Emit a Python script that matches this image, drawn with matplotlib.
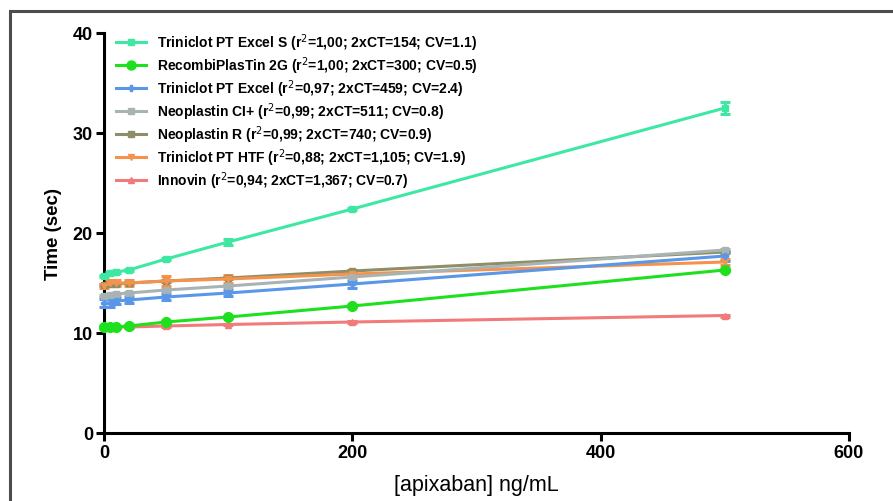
import matplotlib
matplotlib.use("Agg")
import matplotlib.pyplot as plt
from matplotlib.patches import Rectangle
from matplotlib.lines import Line2D

plt.rcParams['font.family'] = ['Liberation Sans', 'DejaVu Sans']

# ---- data ----
apixaban = [0, 5, 10, 20, 50, 100, 200, 500]

series_names = [
    "Triniclot PT Excel S (r$^2$=1,00; 2xCT=154; CV=1.1)",
    "RecombiPlasTin 2G (r$^2$=1,00; 2xCT=300; CV=0.5)",
    "Triniclot PT Excel (r$^2$=0,97; 2xCT=459; CV=2.4)",
    "Neoplastin CI+ (r$^2$=0,99; 2xCT=511; CV=0.8)",
    "Neoplastin R (r$^2$=0,99; 2xCT=740; CV=0.9)",
    "Triniclot PT HTF (r$^2$=0,88; 2xCT=1,105; CV=1.9)",
    "Innovin (r$^2$=0,94; 2xCT=1,367; CV=0.7)",
]

excel_s = [15.7, 16.0, 16.1, 16.3, 17.4, 19.1, 22.4, 32.5]
excel_s_err = [0.1, 0.1, 0.1, 0.1, 0.1, 0.3, 0.1, 0.6]

recombiplastin = [10.6, 10.6, 10.6, 10.7, 11.1, 11.6, 12.7, 16.3]
recombiplastin_err = [0.1, 0.1, 0.1, 0.1, 0.1, 0.1, 0.1, 0.1]

excel = [13.0, 13.0, 13.2, 13.3, 13.6, 14.0, 14.9, 17.7]
excel_err = [0.4, 0.4, 0.3, 0.3, 0.3, 0.3, 0.35, 0.45]

neoplastin_ci = [13.7, 13.8, 13.9, 14.0, 14.3, 14.7, 15.6, 18.3]
neoplastin_ci_err = [0.1, 0.1, 0.1, 0.1, 0.1, 0.1, 0.1, 0.1]

neoplastin_r = [14.8, 14.9, 14.9, 15.0, 15.2, 15.5, 16.2, 18.1]
neoplastin_r_err = [0.1, 0.1, 0.1, 0.1, 0.1, 0.1, 0.1, 0.1]

htf = [14.7, 15.0, 15.0, 15.0, 15.2, 15.4, 15.9, 17.1]
htf_err = [0.2, 0.3, 0.3, 0.3, 0.5, 0.4, 0.1, 0.3]

innovin = [10.6, 10.6, 10.6, 10.6, 10.7, 10.85, 11.1, 11.75]
innovin_err = [0.05, 0.05, 0.05, 0.05, 0.05, 0.05, 0.1, 0.1]

x_ticks = [0, 200, 400, 600]
y_ticks = [0, 10, 20, 30, 40]

# ---- styles ----
styles = [
    (excel_s, excel_s_err, '#3FE8A2', 's', 4.5, 4.5),
    (recombiplastin, recombiplastin_err, '#1EE01E', 'o', 7, 6.5),
    (excel, excel_err, '#5A97E8', 'P', 4.5, 4.5),
    (neoplastin_ci, neoplastin_ci_err, '#A8B4B4', 's', 4, 4.5),
    (neoplastin_r, neoplastin_r_err, '#8E8E68', 's', 4, 4.5),
    (htf, htf_err, '#F5934C', 'v', 4, 4.5),
    (innovin, innovin_err, '#F37A7A', '^', 4, 4.5),
]

fig = plt.figure(figsize=(8.93, 5.02), dpi=100)
fig.patch.set_facecolor('white')
fig.patches.append(Rectangle((10/893, -0.1), 1.2, 1 - 12/502 + 0.1,
                             transform=fig.transFigure, fill=False,
                             edgecolor='#4d4d4d', linewidth=2.2, zorder=0))

ax = fig.add_axes([104/893, 68/502, 745/893, 400/502])

order = [4, 5, 3, 2, 6, 1, 0]
for i in order:
    vals, err, col, mk, ms, lms = styles[i]
    ax.errorbar(apixaban, vals, yerr=err, color=col, marker=mk, markersize=ms,
                linewidth=2.2, elinewidth=2.2, capsize=3.5, capthick=2.2,
                label=series_names[i], clip_on=False, zorder=3)

ax.set_xlim(0, 600)
ax.set_ylim(0, 40)
ax.set_xticks(x_ticks)
ax.set_yticks(y_ticks)
ax.spines['top'].set_visible(False)
ax.spines['right'].set_visible(False)
for s in ('left', 'bottom'):
    ax.spines[s].set_linewidth(2.2)
ax.tick_params(axis='both', width=2.2, length=6, direction='out', labelsize=13, pad=2)
for lab in ax.get_xticklabels() + ax.get_yticklabels():
    lab.set_fontweight('bold')

ax.set_xlabel('[apixaban] ng/mL', fontsize=15.5, labelpad=9)
ax.set_ylabel('Time (sec)', fontsize=13.5, fontweight='bold', labelpad=8)

leg_handles = []
for vals, err, col, mk, ms, lms in styles:
    leg_handles.append(Line2D([], [], color=col, marker=mk, markersize=lms, linewidth=2.2))
leg = ax.legend(leg_handles, series_names, loc='upper left', bbox_to_anchor=(-0.001, 1.036),
                frameon=False, prop={'weight': 'bold', 'size': 10},
                handlelength=2.2, handletextpad=0.8, labelspacing=0.1)

fig.savefig('out.png', dpi=100, facecolor='white')
